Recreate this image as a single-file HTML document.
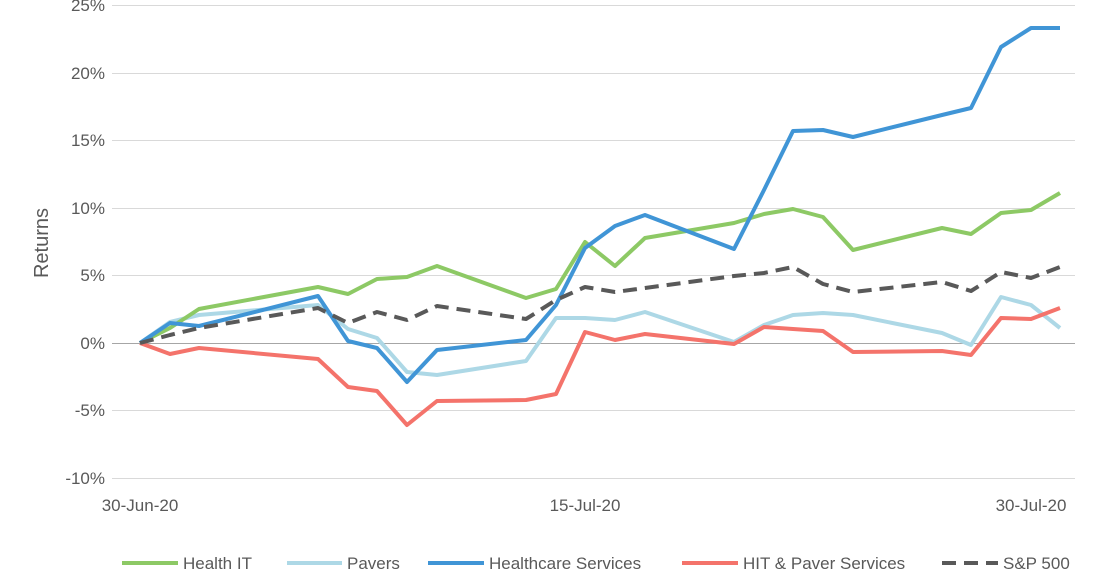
<!DOCTYPE html>
<html><head><meta charset="utf-8"><style>
html,body{margin:0;padding:0;background:#fff;}
svg{display:block;font-family:"Liberation Sans",sans-serif;}
</style></head><body>
<svg width="1110" height="570" viewBox="0 0 1110 570">
<g stroke="#d9d9d9" stroke-width="1">
<line x1="112" x2="1075" y1="5.5" y2="5.5"/>
<line x1="112" x2="1075" y1="73.5" y2="73.5"/>
<line x1="112" x2="1075" y1="140.5" y2="140.5"/>
<line x1="112" x2="1075" y1="208.5" y2="208.5"/>
<line x1="112" x2="1075" y1="275.5" y2="275.5"/>
<line x1="112" x2="1075" y1="410.5" y2="410.5"/>
<line x1="112" x2="1075" y1="478.5" y2="478.5"/>
</g>
<line x1="112" x2="1075" y1="343.5" y2="343.5" stroke="#a6a6a6" stroke-width="1"/>
<g font-size="17" fill="#595959" text-anchor="end">
<text x="105" y="11">25%</text>
<text x="105" y="79">20%</text>
<text x="105" y="146">15%</text>
<text x="105" y="214">10%</text>
<text x="105" y="281">5%</text>
<text x="105" y="349">0%</text>
<text x="105" y="416">-5%</text>
<text x="105" y="484">-10%</text>
</g>
<g font-size="17" fill="#595959" text-anchor="middle">
<text x="140" y="511">30-Jun-20</text>
<text x="585" y="511">15-Jul-20</text>
<text x="1031" y="511">30-Jul-20</text>
</g>
<text transform="translate(48,243) rotate(-90)" font-size="20" fill="#595959" text-anchor="middle">Returns</text>
<g fill="none" stroke-width="4" stroke-linejoin="round">
<polyline stroke="#add8e6" points="140,343 170,322 199,315 318,305 348,329 377,338 407,372 437,375 526,361 556,318 585,318 615,320 645,312 734,342 764,325 793,315 823,313 853,315 942,333 971,345 1001,297 1031,305 1060,328"/>
<polyline stroke="#f4736b" points="140,343 170,354 199,348 318,359 348,387 377,391 407,425 437,401 526,400 556,394 585,332 615,340 645,334 734,344 764,327 793,329 823,331 853,352 942,351 971,355 1001,318 1031,319 1060,308"/>
<polyline stroke="#8dc965" points="140,343 170,328 199,309 318,287 348,294 377,279 407,277 437,266 526,298 556,289 585,242 615,266 645,238 734,223 764,214 793,209 823,217 853,250 942,228 971,234 1001,213 1031,210 1060,193"/>
<polyline stroke="#4095d6" points="140,343 170,323 199,326 318,296 348,341 377,348 407,382 437,350 526,340 556,305 585,248 615,226 645,215 734,249 764,190 793,131 823,130 853,137 942,115 971,108 1001,47 1031,28 1060,28"/>
<polyline stroke="#595959" stroke-dasharray="14,8" points="140,343 170,335 199,328 318,308 348,323 377,312 407,320 437,306 526,319 556,300 585,287 615,292 645,288 734,276 764,273 793,267 823,284 853,292 942,282 971,291 1001,272 1031,278 1060,267"/>
</g>
<g font-size="17" fill="#595959">
<line x1="122" x2="178" y1="563" y2="563" stroke="#8dc965" stroke-width="4"/>
<text x="183" y="569">Health IT</text>
<line x1="287" x2="342" y1="563" y2="563" stroke="#add8e6" stroke-width="4"/>
<text x="347" y="569">Pavers</text>
<line x1="428" x2="484" y1="563" y2="563" stroke="#4095d6" stroke-width="4"/>
<text x="489" y="569">Healthcare Services</text>
<line x1="682" x2="738" y1="563" y2="563" stroke="#f4736b" stroke-width="4"/>
<text x="743" y="569">HIT &amp; Paver Services</text>
<line x1="942" x2="998" y1="563" y2="563" stroke="#595959" stroke-width="4" stroke-dasharray="14,8"/>
<text x="1003" y="569">S&amp;P 500</text>
</g>
</svg>
</body></html>
